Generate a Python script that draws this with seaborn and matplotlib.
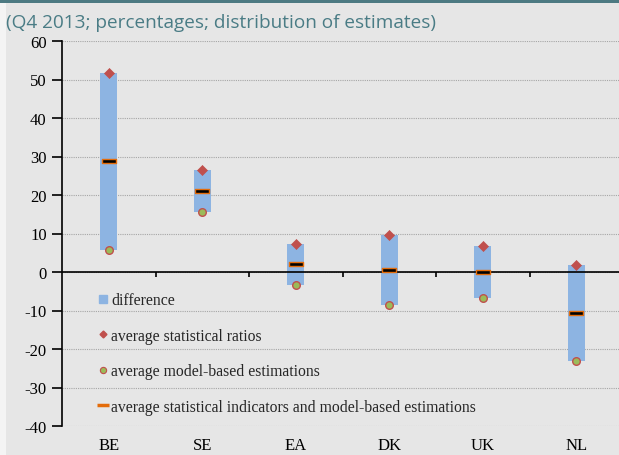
import numpy as np
import pandas as pd
import matplotlib
matplotlib.use("Agg")
import matplotlib.pyplot as plt
from matplotlib.lines import Line2D
from matplotlib.patches import Rectangle
from matplotlib.path import Path
import seaborn as sns

# ---- data ----
countries = ["BE", "SE", "EA", "DK", "UK", "NL"]
stat_ratios = [51.7, 26.5, 7.4, 9.7, 6.8, 1.7]        # average statistical ratios (top)
model_based = [5.8, 15.5, -3.3, -8.5, -6.8, -23.0]    # average model-based estimations (bottom)
avg_all = [28.8, 21.0, 2.1, 0.6, 0.0, -10.6]          # average of indicators and model estimates
y_ticks = [60, 50, 40, 30, 20, 10, 0, -10, -20, -30, -40]
title = "(Q4 2013; percentages; distribution of estimates)"

df = pd.DataFrame({
    "country": countries,
    "ratios": stat_ratios,
    "model": model_based,
    "avg": avg_all,
})
df["diff"] = df["ratios"] - df["model"]

BG = "#e6e6e6"
BLUE = "#8db4e2"
RED = "#c0504d"
GREEN = "#9bbb59"
ORANGE = "#e46c0a"
TEAL = "#4a7c85"
SERIF = "Liberation Serif"

sns.set_theme(style="white")
plt.rcParams["font.family"] = ["Liberation Serif", "DejaVu Serif"]
plt.rcParams["axes.unicode_minus"] = False

W, H = 619, 456
fig = plt.figure(figsize=(W / 100, H / 100), dpi=100, facecolor=BG)
# top band and left white strip
fig.patches.append(Rectangle((0, 1 - 4 / H), 1, 4 / H, transform=fig.transFigure,
                             facecolor="#4d7a82", edgecolor="none", zorder=0))
fig.patches.append(Rectangle((0, 0), 6 / W, 1 - 4 / H, transform=fig.transFigure,
                             facecolor="#f4f4f4", edgecolor="none", zorder=0))

left, right = 62, 623
bottom, top = 427, 42
ax = fig.add_axes([left / W, (H - bottom) / H, (right - left) / W, (bottom - top) / H])
ax.set_facecolor(BG)

# bars: difference between statistical ratios and model estimates
sns.barplot(data=df, x="country", y="diff", bottom=df["model"], color=BLUE,
            saturation=1, width=0.185, ax=ax, zorder=2, linewidth=0)

# markers
sns.scatterplot(data=df, x="country", y="ratios", marker="D", s=26, color=RED,
                edgecolor=RED, linewidth=0.5, ax=ax, zorder=4, legend=False)
sns.scatterplot(data=df, x="country", y="model", marker="o", s=30, color=GREEN,
                edgecolor=RED, linewidth=1.0, ax=ax, zorder=4, legend=False)
rect = Path([(-1, -0.22), (1, -0.22), (1, 0.22), (-1, 0.22), (-1, -0.22)],
            [Path.MOVETO, Path.LINETO, Path.LINETO, Path.LINETO, Path.CLOSEPOLY])
sns.scatterplot(data=df, x="country", y="avg", marker=rect, s=110, color="black",
                edgecolor=ORANGE, linewidth=1.0, ax=ax, zorder=5, legend=False)

ax.set_xlim(-0.5, len(countries) - 0.5)
ax.set_ylim(-40, 60)
ax.set_yticks(y_ticks)
ax.set_xlabel("")
ax.set_ylabel("")

# grid lines
for yv in y_ticks:
    ax.axhline(yv, color="#a6a6a6", linestyle=(0, (1, 1)), linewidth=0.8, zorder=1)

# spines
for s in ["top", "right", "bottom"]:
    ax.spines[s].set_visible(False)
ax.spines["left"].set_color("black")
ax.spines["left"].set_linewidth(1.2)
ax.spines["left"].set_zorder(6)

# x axis line at zero with category boundary ticks
ax.axhline(0, color="black", linewidth=1.2, zorder=3)
ax.vlines(np.arange(len(countries) - 1) + 0.5, -1.4, 0, color="black", linewidth=1.2, zorder=3)

ax.tick_params(axis="y", direction="out", length=7, width=1.2, color="black",
               labelsize=12, pad=4, left=True, labelcolor="black")
ax.tick_params(axis="x", length=0, labelsize=12, pad=8, labelcolor="black")
for lab in ax.get_xticklabels() + ax.get_yticklabels():
    lab.set_fontfamily(SERIF)

# legend
handles = [
    Line2D([], [], linestyle="none", marker="s", markersize=6, color=BLUE),
    Line2D([], [], linestyle="none", marker="D", markersize=3.5, color=RED),
    Line2D([], [], linestyle="none", marker="o", markersize=4.5, markerfacecolor=GREEN,
           markeredgecolor=RED, markeredgewidth=0.8),
    Line2D([], [], linestyle="none", marker="_", markersize=8, markeredgewidth=2.5,
           color=ORANGE),
]
labels = ["difference", "average statistical ratios", "average model-based estimations",
          "average statistical indicators and model-based estimations"]
leg = ax.legend(handles, labels, loc="upper left", bbox_to_anchor=(0.039, 0.384),
                frameon=False, handlelength=0.6, handletextpad=0.25,
                labelspacing=1.24, prop={"family": SERIF, "size": 11.3})

fig.text(6 / W, 1 - 14 / H, title, ha="left", va="top", fontsize=13.7,
         color=TEAL, family="Open Sans")

fig.savefig("out.png", dpi=100, facecolor=BG)
